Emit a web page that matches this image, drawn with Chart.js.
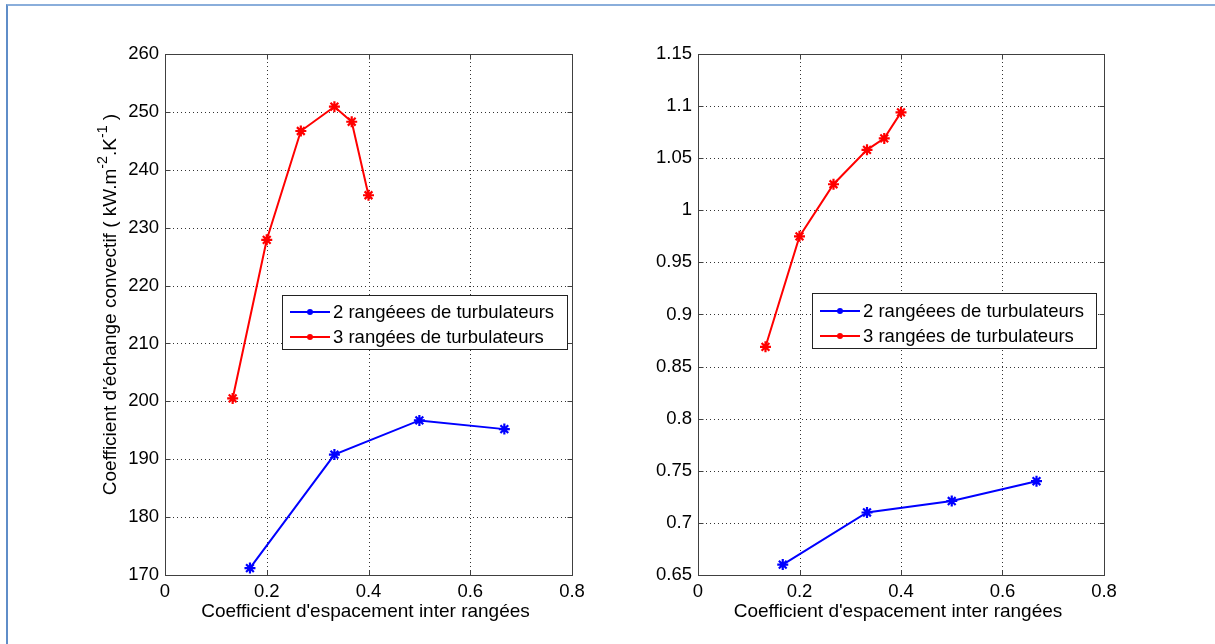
<!DOCTYPE html>
<html><head><meta charset="utf-8">
<script src="https://cdn.jsdelivr.net/npm/chart.js@4.4.1/dist/chart.umd.min.js"></script>
<style>
html,body{margin:0;padding:0;background:#fff;}
#wrap{position:relative;width:1215px;height:644px;overflow:hidden;background:#fff;}
#frame{position:absolute;left:6px;top:4px;width:1300px;height:700px;border-left:2px solid #5f8dc8;border-top:2px solid #8aaedb;}
canvas{position:absolute;top:0;}
</style></head><body>
<div id="wrap"><div id="frame"></div>
<canvas id="c1" width="607" height="644" style="left:0"></canvas>
<canvas id="c2" width="608" height="644" style="left:607px"></canvas>
</div>
<script>
// ---- data ----
const xRows2 = [0.167, 0.333, 0.5, 0.667];
const xRows3 = [0.133, 0.2, 0.267, 0.333, 0.367, 0.4];
const hConv2 = [171.2, 190.8, 196.7, 195.2];
const hConv3 = [200.5, 227.9, 246.7, 250.9, 248.3, 235.6];
const dP2 = [0.660, 0.710, 0.721, 0.740];
const dP3 = [0.869, 0.975, 1.025, 1.058, 1.069, 1.094];
const xTicks = [0, 0.2, 0.4, 0.6, 0.8];
const hTicks = [170, 180, 190, 200, 210, 220, 230, 240, 250, 260];
const dpTicks = [0.65, 0.7, 0.75, 0.8, 0.85, 0.9, 0.95, 1, 1.05, 1.1, 1.15];
const seriesNames = ['2 rangéees de turbulateurs', '3 rangées de turbulateurs'];
const xTitle = "Coefficient d'espacement inter rangées";

const FONT = '"Liberation Sans", Arial, sans-serif';
const FS = 18.5;
const TFS = 19;
const BLUE = '#0000ff', RED = '#ff0000';

const axesPlugin = {
  id: 'matlabAxes',
  beforeDatasetsDraw(chart, args, o) {
    const {ctx, chartArea: a, scales: {x, y}} = chart;
    ctx.save();
    ctx.strokeStyle = '#333'; ctx.lineWidth = 1; ctx.setLineDash([1, 3]);
    x.ticks.forEach(t => {
      const px = Math.round(x.getPixelForValue(t.value)) + 0.5;
      if (px <= a.left + 1 || px >= a.right - 1) return;
      ctx.beginPath(); ctx.moveTo(px, a.top); ctx.lineTo(px, a.bottom); ctx.stroke();
    });
    y.ticks.forEach(t => {
      const py = Math.round(y.getPixelForValue(t.value)) + 0.5;
      if (py <= a.top + 1 || py >= a.bottom - 1) return;
      ctx.beginPath(); ctx.moveTo(a.left, py); ctx.lineTo(a.right, py); ctx.stroke();
    });
    ctx.restore();
  },
  afterDatasetsDraw(chart, args, o) {
    const {ctx, chartArea: a, scales: {x, y}} = chart;
    ctx.save();
    ctx.setLineDash([]);
    ctx.strokeStyle = '#404040'; ctx.lineWidth = 1;
    const L = Math.round(a.left) + 0.5, R = Math.round(a.right) + 0.5, T = Math.round(a.top) + 0.5, B = Math.round(a.bottom) + 0.5;
    ctx.strokeRect(L, T, R - L, B - T);
    const tl = 5;
    x.ticks.forEach(t => {
      const px = Math.round(x.getPixelForValue(t.value)) + 0.5;
      ctx.beginPath(); ctx.moveTo(px, B); ctx.lineTo(px, B - tl); ctx.moveTo(px, T); ctx.lineTo(px, T + tl); ctx.stroke();
    });
    y.ticks.forEach(t => {
      const py = Math.round(y.getPixelForValue(t.value)) + 0.5;
      ctx.beginPath(); ctx.moveTo(L, py); ctx.lineTo(L + tl, py); ctx.moveTo(R, py); ctx.lineTo(R - tl, py); ctx.stroke();
    });
    ctx.restore();
  },
  afterDraw(chart, args, o) {
    const {ctx, chartArea: a} = chart;
    ctx.save();
    ctx.fillStyle = '#000';
    ctx.font = TFS + 'px ' + FONT;
    // x title
    ctx.textAlign = 'center'; ctx.textBaseline = 'alphabetic';
    ctx.fillText(xTitle, (a.left + a.right) / 2 - 3, o.xTitleY);
    // y title (rotated), parts with superscripts
    ctx.save();
    ctx.translate(o.yTitleX, (a.top + a.bottom) / 2 + o.yTitleShift);
    ctx.rotate(-Math.PI / 2);
    ctx.textAlign = 'left';
    const parts = o.yTitleParts;
    let total = 0;
    parts.forEach(p => { ctx.font = (p.sup ? TFS * 0.75 : TFS) + 'px ' + FONT; total += ctx.measureText(p.t).width; });
    let cx = -total / 2;
    parts.forEach(p => {
      ctx.font = (p.sup ? TFS * 0.75 : TFS) + 'px ' + FONT;
      ctx.fillText(p.t, cx, p.sup ? -TFS * 0.45 : 0);
      cx += ctx.measureText(p.t).width;
    });
    ctx.restore();
    // legend
    const lg = o.legend;
    ctx.fillStyle = '#fff';
    ctx.fillRect(lg.x, lg.y, lg.w, lg.h);
    ctx.strokeStyle = '#222'; ctx.lineWidth = 1;
    ctx.strokeRect(lg.x + 0.5, lg.y + 0.5, lg.w, lg.h);
    ctx.font = FS + 'px ' + FONT;
    ctx.textAlign = 'left'; ctx.textBaseline = 'middle';
    chart.data.datasets.forEach((ds, i) => {
      const yy = lg.y + lg.row0 + i * lg.rowH;
      ctx.strokeStyle = ds.borderColor; ctx.lineWidth = 2;
      ctx.beginPath(); ctx.moveTo(lg.x + 8, yy); ctx.lineTo(lg.x + 48, yy); ctx.stroke();
      ctx.fillStyle = ds.borderColor;
      ctx.beginPath(); ctx.arc(lg.x + 28, yy, 3, 0, Math.PI * 2); ctx.fill();
      ctx.fillStyle = '#000';
      ctx.fillText(ds.label, lg.x + 51, yy + 1);
    });
    ctx.restore();
  }
};

function toPts(xs, ys) { return xs.map((v, i) => ({x: v, y: ys[i]})); }

function makeChart(id, yTicksArr, s2, s3, plug, axisW, padR) {
  return new Chart(document.getElementById(id), {
    type: 'scatter',
    data: {
      datasets: [
        {label: seriesNames[0], data: toPts(xRows2, s2), borderColor: BLUE, backgroundColor: BLUE, showLine: true, borderWidth: 2,
         pointStyle: 'star', pointRadius: 5.5, pointBorderWidth: 2.2, pointHoverRadius: 5.5},
        {label: seriesNames[1], data: toPts(xRows3, s3), borderColor: RED, backgroundColor: RED, showLine: true, borderWidth: 2,
         pointStyle: 'star', pointRadius: 5.5, pointBorderWidth: 2.2, pointHoverRadius: 5.5}
      ]
    },
    options: {
      responsive: false, animation: false, devicePixelRatio: 1,
      layout: {padding: {left: 0, right: padR, top: 54, bottom: 0}},
      plugins: {legend: {display: false}, tooltip: {enabled: false}, matlabAxes: plug},
      scales: {
        x: {
          type: 'linear', min: xTicks[0], max: xTicks[xTicks.length - 1],
          afterBuildTicks: s => { s.ticks = xTicks.map(v => ({value: v})); },
          afterFit: s => { s.height = 69; },
          grid: {display: false, drawTicks: false}, border: {display: false},
          ticks: {color: '#000', font: {family: FONT, size: FS}, padding: 6, maxRotation: 0, callback: v => String(v)}
        },
        y: {
          type: 'linear', min: yTicksArr[0], max: yTicksArr[yTicksArr.length - 1],
          afterBuildTicks: s => { s.ticks = yTicksArr.map(v => ({value: v})); },
          afterFit: s => { s.width = axisW; },
          grid: {display: false, drawTicks: false}, border: {display: false},
          ticks: {color: '#000', font: {family: FONT, size: FS}, padding: 6, callback: v => String(v)}
        }
      }
    },
    plugins: [axesPlugin]
  });
}

makeChart('c1', hTicks, hConv2, hConv3, {
  xTitleY: 617, yTitleX: 116, yTitleShift: -10,
  yTitleParts: [{t: "Coefficient d'échange convectif ( kW.m"}, {t: '-2', sup: true}, {t: '.K'}, {t: '-1', sup: true}, {t: ' )'}],
  legend: {x: 282, y: 295, w: 285, h: 54, row0: 17, rowH: 25}
}, 165, 35);

makeChart('c2', dpTicks, dP2, dP3, {
  xTitleY: 617, yTitleX: 646, yTitleShift: -10,
  yTitleParts: [{t: 'Pertes en charge ( mBar )'}],
  legend: {x: 205, y: 293, w: 284, h: 55, row0: 18, rowH: 25}
}, 91, 111);
</script>
</body></html>
